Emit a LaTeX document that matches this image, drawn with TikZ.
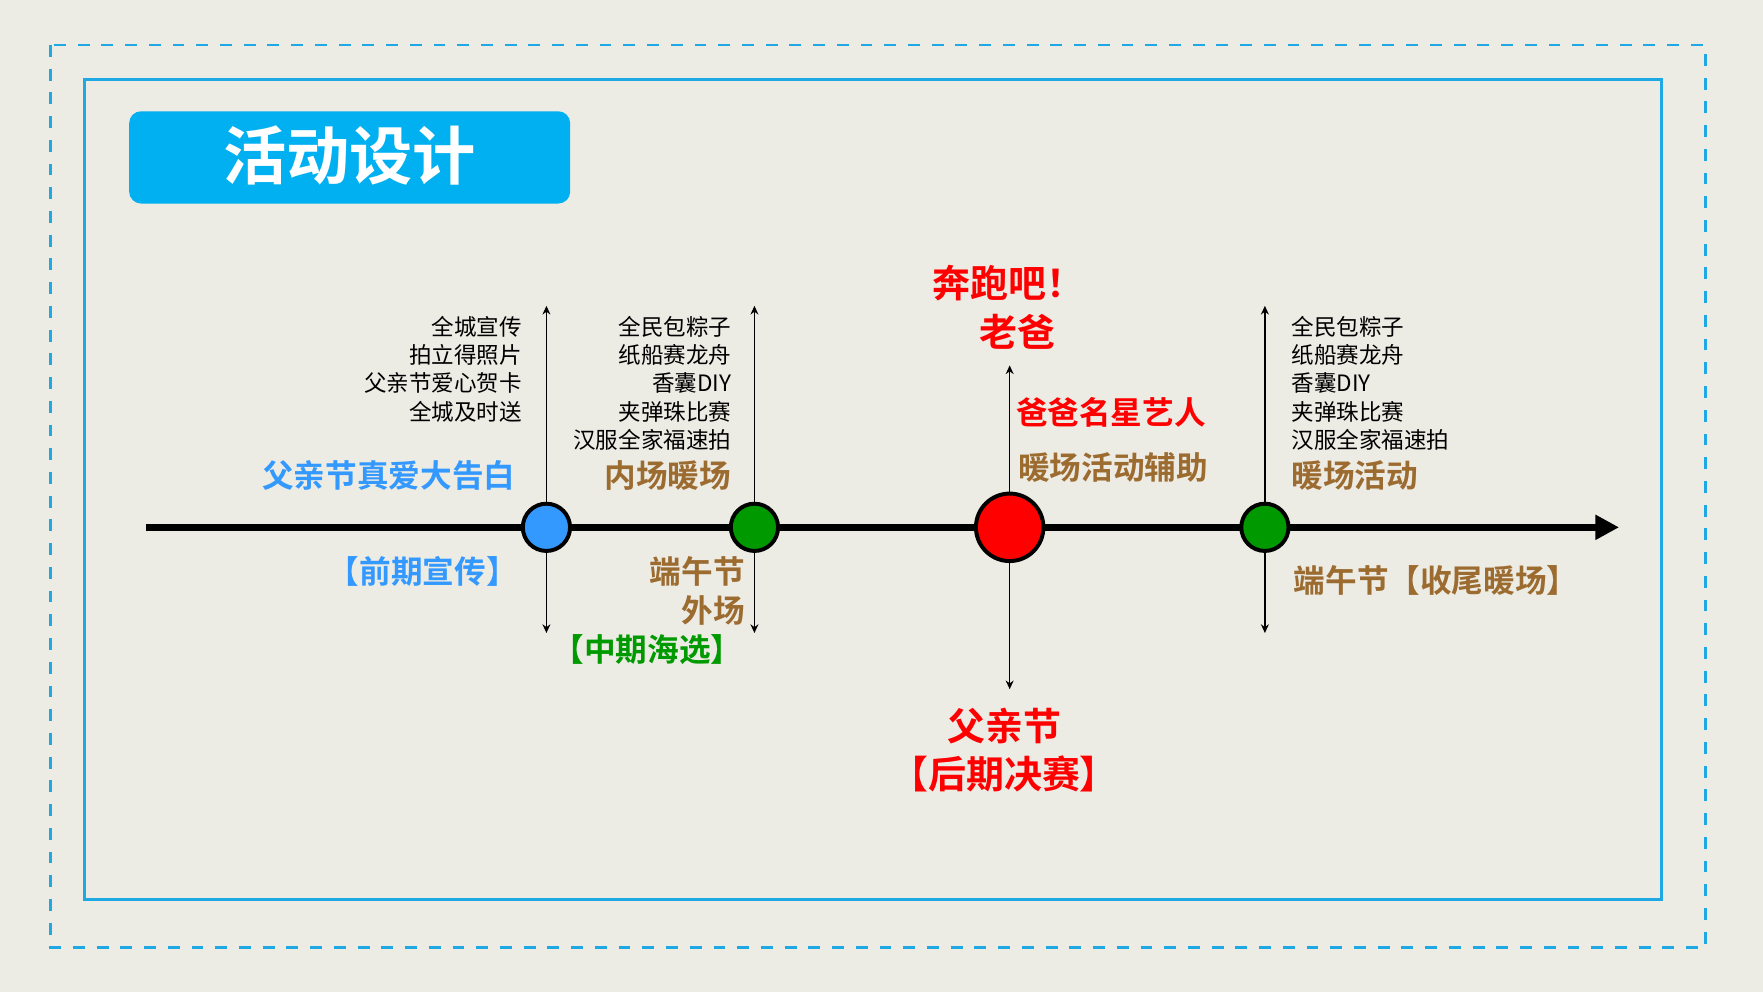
\documentclass[tikz,border=0pt]{standalone}
\usepackage{fontspec}
\setmainfont{Noto Sans CJK SC}
\newfontfamily\cjkb{Noto Sans CJK SC Bold}
\usetikzlibrary{arrows.meta,shadows}
\definecolor{bg}{HTML}{ECEBE4}
\definecolor{frame}{HTML}{1EA8E4}
\definecolor{titlefill}{HTML}{00B0F0}
\definecolor{bluet}{HTML}{3399FF}
\definecolor{greent}{HTML}{009900}
\definecolor{brownt}{HTML}{9C6B30}
\tikzset{
 x=0.01cm,y=-0.01cm,
 item/.style={inner sep=0pt,font=\fontsize{5.7pt}{6pt}\selectfont},
 lab/.style={inner sep=0pt,font=\cjkb\fontsize{8pt}{9pt}\selectfont},
 big/.style={inner sep=0pt,font=\cjkb\fontsize{9.6pt}{10pt}\selectfont},
 vline/.style={line width=0.4pt,-{Stealth[length=2.2pt,width=2pt]}},
 dot/.style={circle,draw=black,line width=1pt,inner sep=0pt},
}
\begin{document}
\begin{tikzpicture}
\useasboundingbox (0,0) rectangle (1568,882);
\fill[bg] (0,0) rectangle (1568,882);
\draw[frame,dashed,line width=0.7pt] (45,40) rectangle (1517,843);
\draw[frame,line width=0.7pt] (75,71) rectangle (1478,800);
\node[fill=titlefill,rounded corners=3pt,minimum width=3.92cm,minimum height=0.82cm,inner sep=0pt] (title) at (311,140) {};
\node[text=white,font=\cjkb\fontsize{16pt}{17pt}\selectfont] (tt) at (311,138) {活动设计};
% timeline
\coordinate (ts) at (130,469); \coordinate (te) at (1440,469);
\draw[line width=1.8pt,-{Triangle[length=6pt,width=6pt]}] (ts) -- (te);
% verticals
\foreach \n/\x/\u/\d in {a/486/272/563,b/671/272/563,c/898/325/613,d/1125/272/563}{
 \coordinate (\n u) at (\x,\u); \coordinate (\n d) at (\x,\d); \coordinate (\n m) at (\x,469);
 \draw[vline] (\n m) -- (\n u); \draw[vline] (\n m) -- (\n d);}
\node[dot,fill=bluet,minimum size=0.42cm] (ca) at (am) {};
\node[dot,fill=greent,minimum size=0.42cm] (cb) at (bm) {};
\node[dot,fill=red,minimum size=0.6cm] (cc) at (cm) {};
\node[dot,fill=greent,minimum size=0.42cm] (cd) at (dm) {};
% left list
\foreach \t [count=\i] in {全城宣传,拍立得照片,父亲节爱心贺卡,全城及时送}
 \node[item,anchor=east] (l\i) at (465,{266+25*\i}) {\t};
\node[lab,anchor=east,text=bluet] (l5) at (459,423) {父亲节真爱大告白};
\node[lab,text=bluet] (l6) at (376,508) {【前期宣传】};
% second list
\foreach \t [count=\i] in {全民包粽子,纸船赛龙舟,香囊DIY,夹弹珠比赛,汉服全家福速拍}
 \node[item,anchor=east] (m\i) at (651,{266+25*\i}) {\t};
\node[lab,anchor=east,text=brownt] (m6) at (651,423) {内场暖场};
\node[lab,anchor=east,text=brownt] (m7) at (663,508) {端午节};
\node[lab,anchor=east,text=brownt] (m8) at (663,543) {外场};
\node[lab,text=greent] (m9) at (576,578) {【中期海选】};
% center
\node[big,text=red] (c1) at (897,252) {奔跑吧！};
\node[big,text=red] (c2) at (905,295) {老爸};
\node[lab,anchor=west,text=red] (c3) at (903,367) {爸爸名星艺人};
\node[lab,anchor=west,text=brownt] (c4) at (905,416) {暖场活动辅助};
\node[big,text=red] (c5) at (893,646) {父亲节};
\node[big,text=red] (c6) at (893,688) {【后期决赛】};
% right list
\foreach \t [count=\i] in {全民包粽子,纸船赛龙舟,香囊DIY,夹弹珠比赛,汉服全家福速拍}
 \node[item,anchor=west] (r\i) at (1148,{266+25*\i}) {\t};
\node[lab,anchor=west,text=brownt] (r6) at (1148,423) {暖场活动};
\node[lab,anchor=west,text=brownt] (r7) at (1150,516) {端午节【收尾暖场】};
\end{tikzpicture}
\end{document}
